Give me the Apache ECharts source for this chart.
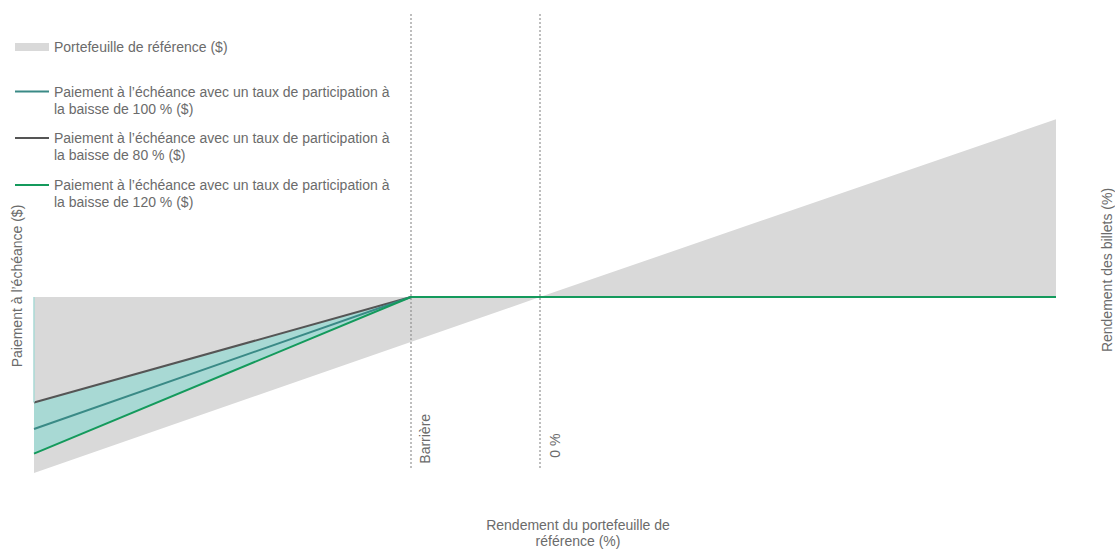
<!DOCTYPE html>
<html>
<head>
<meta charset="utf-8">
<script src="https://cdn.jsdelivr.net/npm/echarts@6/dist/echarts.min.js"></script>
<style>
  html, body { margin: 0; padding: 0; background: #ffffff; overflow: hidden; }
  #chart { width: 1115px; height: 554px; }
</style>
</head>
<body>
<div id="chart"></div>
<script>
// Reference portfolio return (x, %) against its value (y)
const refPoints = [[-100, -100], [0, 0], [102, 101]];
// Maturity payout for each downside participation rate
const pay100 = [[-100, -75], [-25.5, 0], [102, 0]];
const pay80  = [[-100, -60], [-25.5, 0], [102, 0]];
const pay120 = [[-100, -89], [-25.5, 0], [102, 0]];
// Vertical reference markers
const barrierX = -25.5;
const zeroX = 0;
const markerSpan = [-97, 162];
const markerLabels = ['Barrière', '0 %'];

const names = {
  ref: 'Portefeuille de référence ($)',
  p100: 'Paiement à l\u2019échéance avec un taux de participation à\nla baisse de 100 % ($)',
  p80: 'Paiement à l\u2019échéance avec un taux de participation à\nla baisse de 80 % ($)',
  p120: 'Paiement à l\u2019échéance avec un taux de participation à\nla baisse de 120 % ($)'
};

const textColor = '#6b6b6b';
const font = "'Liberation Sans', Arial, sans-serif";
const FS = 14;
const GREY = '#d9d9d9';
const TEAL_FILL = '#a8d9d4';

// One legend block per entry; two-line entries keep the icon on the first line
function legendAt(name, top, iconH, multi) {
  return {
    data: [name],
    left: 15,
    top: top,
    padding: 0,
    orient: 'vertical',
    itemWidth: 34,
    itemHeight: iconH,
    itemGap: 0,
    icon: 'rect',
    selectedMode: false,
    formatter: (n) => (multi ? '\n' + n : n),
    textStyle: { color: textColor, fontSize: FS, fontFamily: font, lineHeight: 17 }
  };
}

const chart = echarts.init(document.getElementById('chart'), null, { renderer: 'svg' });

const markerLine = (x, label, dist) => [
  { coord: [x, markerSpan[0]], label: { formatter: label, distance: dist } },
  { coord: [x, markerSpan[1]] }
];

chart.setOption({
  animation: false,
  backgroundColor: '#ffffff',
  textStyle: { fontFamily: font },
  legend: [
    legendAt(names.ref, 38.5, 8, false),
    legendAt(names.p100, 66, 2, true),
    legendAt(names.p80, 112.5, 2, true),
    legendAt(names.p120, 159.5, 2, true)
  ],
  grid: { left: 34, right: 59, top: 12, bottom: 74, outerBoundsMode: 'none', containLabel: false },
  xAxis: {
    type: 'value',
    min: -100,
    max: 102,
    name: 'Rendement du portefeuille de\nréférence (%)',
    nameLocation: 'middle',
    nameGap: 37,
    nameTextStyle: { color: textColor, fontSize: FS, lineHeight: 16, fontFamily: font, padding: [0, 0, 0, 66] },
    axisLine: { show: false },
    axisTick: { show: false },
    axisLabel: { show: false },
    splitLine: { show: false }
  },
  yAxis: [
    {
      type: 'value',
      min: -104,
      max: 162,
      name: 'Paiement à l\u2019échéance ($)',
      nameLocation: 'middle',
      nameGap: 10,
      nameRotate: 90,
      nameTextStyle: { color: textColor, fontSize: FS, fontFamily: font, padding: [0, 80, 0, 0] },
      axisLine: { show: false },
      axisTick: { show: false },
      axisLabel: { show: false },
      splitLine: { show: false }
    },
    {
      type: 'value',
      min: -104,
      max: 162,
      position: 'right',
      name: 'Rendement des billets (%)',
      nameLocation: 'middle',
      nameGap: 44,
      nameRotate: 90,
      nameTextStyle: { color: textColor, fontSize: FS, fontFamily: font, padding: [0, 48, 0, 0] },
      axisLine: { show: false },
      axisTick: { show: false },
      axisLabel: { show: false },
      splitLine: { show: false }
    }
  ],
  series: [
    {
      name: names.ref,
      type: 'line',
      data: refPoints,
      color: GREY,
      symbol: 'none',
      lineStyle: { width: 0 },
      areaStyle: { color: GREY, opacity: 1 },
      silent: true,
      z: 1,
      markLine: {
        silent: true,
        symbol: 'none',
        lineStyle: { color: '#8c8c8c', type: [1.5, 2.5], width: 1.5 },
        label: {
          show: true,
          position: 'insideStartBottom',
          color: textColor,
          fontSize: FS,
          fontFamily: font
        },
        data: [
          markerLine(barrierX, markerLabels[0], [4, 7]),
          markerLine(zeroX, markerLabels[1], [10, 8])
        ]
      }
    },
    {
      name: 'zone120',
      type: 'line',
      data: pay120,
      symbol: 'none',
      lineStyle: { width: 0 },
      areaStyle: { color: TEAL_FILL, opacity: 1 },
      silent: true,
      z: 2
    },
    {
      name: 'zone80',
      type: 'line',
      data: pay80,
      symbol: 'none',
      lineStyle: { width: 0 },
      areaStyle: { color: GREY, opacity: 1 },
      silent: true,
      z: 3,
      // thin teal edge on the left border above the band
      markLine: {
        silent: true,
        symbol: 'none',
        label: { show: false },
        lineStyle: { color: TEAL_FILL, type: 'solid', width: 1.5 },
        data: [[{ coord: [pay80[0][0], 0] }, { coord: pay80[0] }]]
      }
    },
    {
      name: names.p80,
      type: 'line',
      data: pay80,
      color: '#555555',
      symbol: 'none',
      lineStyle: { width: 2, color: '#555555' },
      z: 4
    },
    {
      name: names.p100,
      type: 'line',
      data: pay100,
      color: '#3a8a86',
      symbol: 'none',
      lineStyle: { width: 2, color: '#3a8a86' },
      z: 5
    },
    {
      name: names.p120,
      type: 'line',
      data: pay120,
      color: '#149a5c',
      symbol: 'none',
      lineStyle: { width: 2, color: '#149a5c' },
      z: 6
    }
  ]
});
</script>
</body>
</html>
